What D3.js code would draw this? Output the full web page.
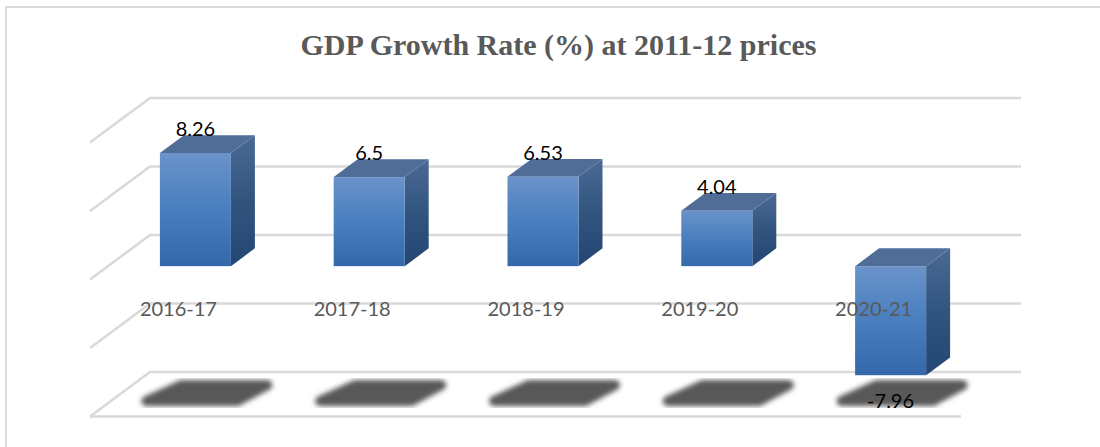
<!DOCTYPE html>
<html>
<head>
<meta charset="utf-8">
<script src="https://cdn.jsdelivr.net/npm/d3@7"></script>
<style>
    html, body { margin: 0; padding: 0; background: #fff; }
    svg { display: block; }
</style>
</head>
<body>
<div id="chart"></div>
<script>
var years = ["2016-17", "2017-18", "2018-19", "2019-20", "2020-21"];
var growth = [8.26, 6.5, 6.53, 4.04, -7.96];
var gridTicks = [-10, -5, 0, 5, 10];
var chartTitle = "GDP Growth Rate (%) at 2011-12 prices";

function init() {
    var width = 1100;
    var height = 447;

    // floor depth as drawn, back wall sits up and right of the front edge
    var depthX = 60;
    var depthY = 44.5;

    // Scales live on the back wall / front floor edge
    var y = d3.scaleLinear().domain([-10, 10]).range([372, 98]);
    var x = d3.scaleBand().domain(years).range([90.5, 959.5]);

    // how far the bars stand from the back wall, and how deep they are
    var barInset = 0.7;
    var barDepth = 0.4;
    var barWidth = 71;

    var svg = d3.select("#chart")
        .append("svg")
        .attr("width", width)
        .attr("height", height);

    var defs = svg.append("defs");

    function gradient(id, stops) {
        var g = defs.append("linearGradient")
            .attr("id", id)
            .attr("x1", 0).attr("y1", 0)
            .attr("x2", 0).attr("y2", 1);
        stops.forEach(function (s) {
            g.append("stop").attr("offset", s[0]).attr("stop-color", s[1]);
        });
    }
    gradient("barFront", [[0, "#6a93c9"], [0.45, "#4c80c0"], [1, "#3568ab"]]);
    gradient("barSide", [[0, "#4a6a94"], [0.5, "#31557f"], [1, "#234672"]]);

    defs.append("filter")
        .attr("id", "soft")
        .attr("x", "-20%").attr("y", "-40%")
        .attr("width", "140%").attr("height", "180%")
        .append("feGaussianBlur")
        .attr("stdDeviation", 2.6);

    // Frame, only the top and left edges show
    var frame = svg.append("g")
        .attr("stroke", "#d9d9d9")
        .attr("stroke-width", 2);
    frame.append("line")
        .attr("x1", 5).attr("x2", width)
        .attr("y1", 7).attr("y2", 7);
    frame.append("line")
        .attr("x1", 6).attr("x2", 6)
        .attr("y1", 6).attr("y2", height);

    svg.append("text")
        .attr("x", 558.5)
        .attr("y", 55)
        .attr("text-anchor", "middle")
        .attr("font-family", "'Liberation Serif', serif")
        .attr("font-weight", "bold")
        .attr("font-size", 30)
        .attr("fill", "#595959")
        .text(chartTitle);

    var floorY = y(-10);
    var wallLeft = 90 + depthX;
    var wallRight = 1021;

    // Gridlines on back wall with the left side wall diagonals
    var grid = svg.append("g")
        .attr("fill", "none")
        .attr("stroke", "#d9d9d9")
        .attr("stroke-width", 2.6);

    grid.selectAll(".wall")
        .data(gridTicks)
        .enter()
        .append("path")
        .attr("class", "wall")
        .attr("d", function (d) {
            return d3.line()([
                [wallLeft - depthX, y(d) + depthY],
                [wallLeft, y(d)],
                [wallRight, y(d)]
            ]);
        });

    // front edge of the floor
    grid.append("line")
        .attr("x1", wallLeft - depthX).attr("x2", wallRight - depthX)
        .attr("y1", floorY + depthY).attr("y2", floorY + depthY);

    // Shadows on the floor
    var shadowLine = d3.line();
    svg.append("g")
        .attr("filter", "url(#soft)")
        .selectAll("path")
        .data(years)
        .enter()
        .append("path")
        .attr("fill", "#595959")
        .attr("stroke", "#595959")
        .attr("stroke-width", 10)
        .attr("stroke-linejoin", "round")
        .attr("d", function (d) {
            var cx = x(d) + x.bandwidth() / 2;
            return shadowLine([
                [cx - 31, floorY + 29],
                [cx + 60, floorY + 29],
                [cx + 90, floorY + 13],
                [cx + 4, floorY + 13]
            ]) + "Z";
        });

    // Bars, front plane of each is barInset of the way out from the wall
    var bars = svg.append("g")
        .selectAll("g")
        .data(years)
        .enter()
        .append("g");

    var frontDx = depthX * (1 - barInset);

    function geom(d, i) {
        var left = x(d) + x.bandwidth() / 2 + frontDx - barWidth / 2;
        var yTop = y(Math.max(growth[i], 0)) + depthY * barInset;
        var yBot = y(Math.min(growth[i], 0)) + depthY * barInset;
        return {
            left: left,
            right: left + barWidth,
            top: yTop,
            bottom: yBot,
            dx: depthX * barDepth,
            dy: depthY * barDepth
        };
    }

    bars.append("path")
        .attr("fill", "url(#barSide)")
        .attr("d", function (d, i) {
            var g = geom(d, i);
            return d3.line()([
                [g.right, g.top],
                [g.right + g.dx, g.top - g.dy],
                [g.right + g.dx, g.bottom - g.dy],
                [g.right, g.bottom]
            ]) + "Z";
        });

    bars.append("path")
        .attr("fill", "#506d98")
        .attr("d", function (d, i) {
            var g = geom(d, i);
            return d3.line()([
                [g.left, g.top],
                [g.left + g.dx, g.top - g.dy],
                [g.right + g.dx, g.top - g.dy],
                [g.right, g.top]
            ]) + "Z";
        });

    bars.append("rect")
        .attr("fill", "url(#barFront)")
        .attr("x", function (d, i) { return geom(d, i).left; })
        .attr("y", function (d, i) { return geom(d, i).top; })
        .attr("width", barWidth)
        .attr("height", function (d, i) {
            var g = geom(d, i);
            return g.bottom - g.top;
        });

    // Category labels, sit just under the zero line
    svg.append("g")
        .selectAll("text")
        .data(years)
        .enter()
        .append("text")
        .attr("x", function (d) { return x(d) + x.bandwidth() / 2 + 1; })
        .attr("y", y(0) + 81)
        .attr("text-anchor", "middle")
        .attr("font-family", "Lato, sans-serif")
        .attr("font-size", 20)
        .attr("fill", "#595959")
        .text(function (d) { return d; });

    // Data labels
    svg.append("g")
        .selectAll("text")
        .data(years)
        .enter()
        .append("text")
        .attr("x", function (d, i) {
            var g = geom(d, i);
            return (g.left + g.right) / 2;
        })
        .attr("y", function (d, i) {
            var g = geom(d, i);
            return growth[i] < 0 ? g.bottom + 33 : g.top - 17;
        })
        .attr("text-anchor", "middle")
        .attr("font-family", "Lato, sans-serif")
        .attr("font-size", 20)
        .attr("fill", "#000")
        .text(function (d, i) { return growth[i]; });
}

window.onload = init;
</script>
</body>
</html>
